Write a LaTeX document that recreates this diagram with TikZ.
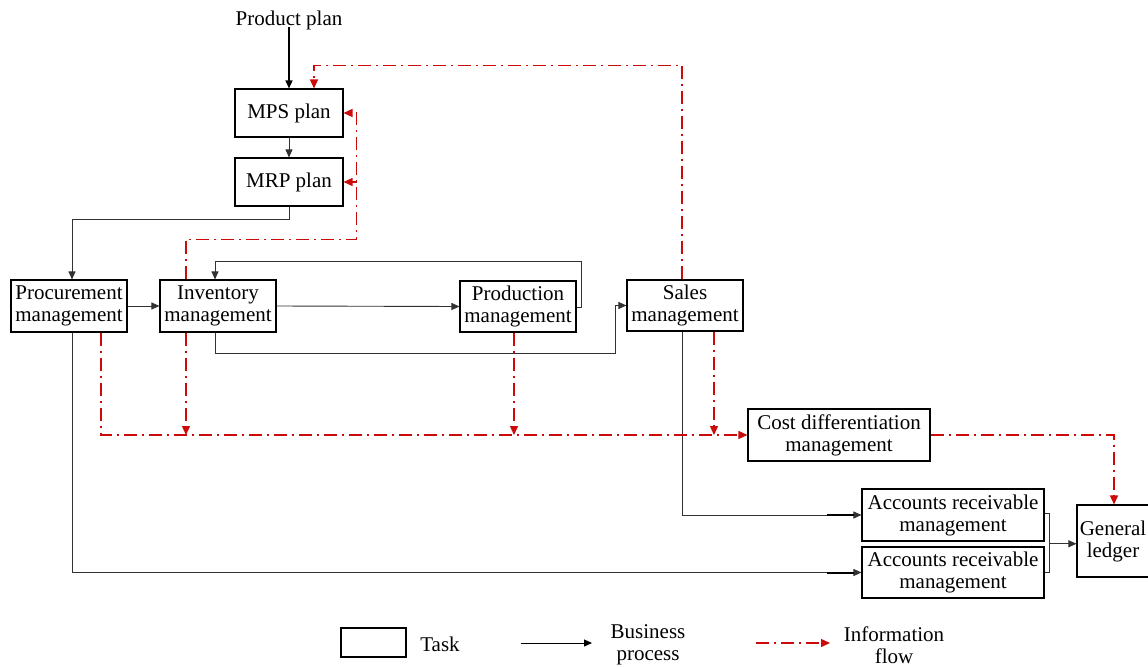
\documentclass[tikz,border=0pt]{standalone}
\usepackage{fontspec}
\setmainfont{Liberation Serif}
\usetikzlibrary{arrows.meta,calc}
\definecolor{infred}{RGB}{204,10,10}
\definecolor{bpgray}{RGB}{50,50,50}
\begin{document}
\begin{tikzpicture}[x=1pt,y=-1pt,
  font=\fontsize{21}{22}\selectfont,
  tbox/.style={draw=black,line width=1.1pt,align=center,inner sep=0pt,fill=white},
  bp/.style={draw=bpgray,line width=0.9pt,-{Triangle[length=8pt,width=7pt]}},
  bpl/.style={draw=bpgray,line width=0.9pt},
  inf/.style={draw=infred,line width=1.4pt,dash pattern=on 13pt off 5pt on 2pt off 5pt,-{Triangle[length=9pt,width=8pt]}},
  lbl/.style={align=center,inner sep=0pt}]
\useasboundingbox (0,0) rectangle (1148,667);

% nodes
\node[lbl] (pp) at (289,20) {Product plan};
\node[tbox,minimum width=108,minimum height=48] (mps) at (289,113) {MPS plan};
\node[tbox,minimum width=108,minimum height=48] (mrp) at (289,182) {MRP plan};
\node[tbox,minimum width=116,minimum height=52] (proc) at (69,306) {Procurement\\management};
\node[tbox,minimum width=116,minimum height=52] (inv) at (218,306) {Inventory\\management};
\node[tbox,minimum width=116,minimum height=51] (prod) at (518,306.5) {Production\\management};
\node[tbox,minimum width=116,minimum height=51] (sales) at (685,305.5) {Sales\\management};
\node[tbox,minimum width=182,minimum height=52] (cost) at (839,435) {Cost differentiation\\management};
\node[tbox,minimum width=182,minimum height=52] (ar1) at (953,515) {Accounts receivable\\management};
\node[tbox,minimum width=182,minimum height=51] (ar2) at (953,572.5) {Accounts receivable\\management};
\node[tbox,minimum width=72,minimum height=72] (gl) at (1113,541) {General\\ledger};

% business process
\draw[bp,draw=black,line width=1.5pt] ([yshift=3]pp.south) -- (mps.north);
\draw[bp] (mps.south) -- (mrp.north);
\draw[bp] (mrp.south) -- ++(0,13) -| ([xshift=3]proc.north);
\draw[bp] (proc.east) -- (inv.west);
\draw[bp] (inv.east) -- (prod.west);
\draw[bp] ([yshift=-1]prod.east) -- ++(5,0) -- ++(0,-46.5) -| ([xshift=-3]inv.north);
\coordinate (sj) at ([xshift=-11]sales.west);
\draw[bp] ([xshift=-3]inv.south) -- ++(0,21) -| (sj) -- (sales.west);
\draw[bp] ([xshift=-3]sales.south) |- (ar1.west);
\draw[draw=black,line width=2pt] ([xshift=-34]ar1.west) -- ([xshift=-7]ar1.west);
\draw[bp] ([xshift=3]proc.south) |- (ar2.west);
\draw[draw=black,line width=2pt] ([xshift=-34]ar2.west) -- ([xshift=-7]ar2.west);
\coordinate (br) at ($(ar1.east)!0.5!(ar2.east)+(5,0)$);
\draw[bpl] ([yshift=2]ar1.east) -| (br) |- (ar2.east);
\draw[bp] (br) -- (br -| gl.west);

% information flow
\draw[inf] ([xshift=-3]sales.north) -- ++(0,-214) -| ([xshift=25]mps.north);
\coordinate (mpsj) at ([xshift=13]mps.east);
\coordinate (mrpj) at ([xshift=13]mrp.east);
\draw[inf] ([xshift=-32]inv.north) -- ++(0,-40) -| (mpsj) -- (mps.east);
\draw[inf] (mrpj) -- (mrp.east);
\draw[inf] ([xshift=32]proc.south) |- (cost.west);
\draw[inf] ([xshift=-32]inv.south) -- ([xshift=-32]inv.south |- cost.west);
\draw[inf] ([xshift=-4]prod.south) -- ([xshift=-4]prod.south |- cost.west);
\draw[inf] ([xshift=29]sales.south) -- ([xshift=29]sales.south |- cost.west);
\draw[inf] (cost.east) -| ([xshift=1]gl.north);

% legend
\node[tbox,minimum width=65,minimum height=29] (lt) at (373.5,642.5) {};
\node[lbl] (ltt) at (440,644) {Task};
\coordinate (lb1) at (521,643);
\coordinate (lb2) at (592,643);
\draw[bp,draw=black] (lb1) -- (lb2);
\node[lbl] (lbt) at (648,645) {Business\\process};
\coordinate (li1) at (756,643);
\coordinate (li2) at (830,643);
\draw[inf] (li1) -- (li2);
\node[lbl] (lit) at (894,645) {Information\\flow};
\end{tikzpicture}
\end{document}
